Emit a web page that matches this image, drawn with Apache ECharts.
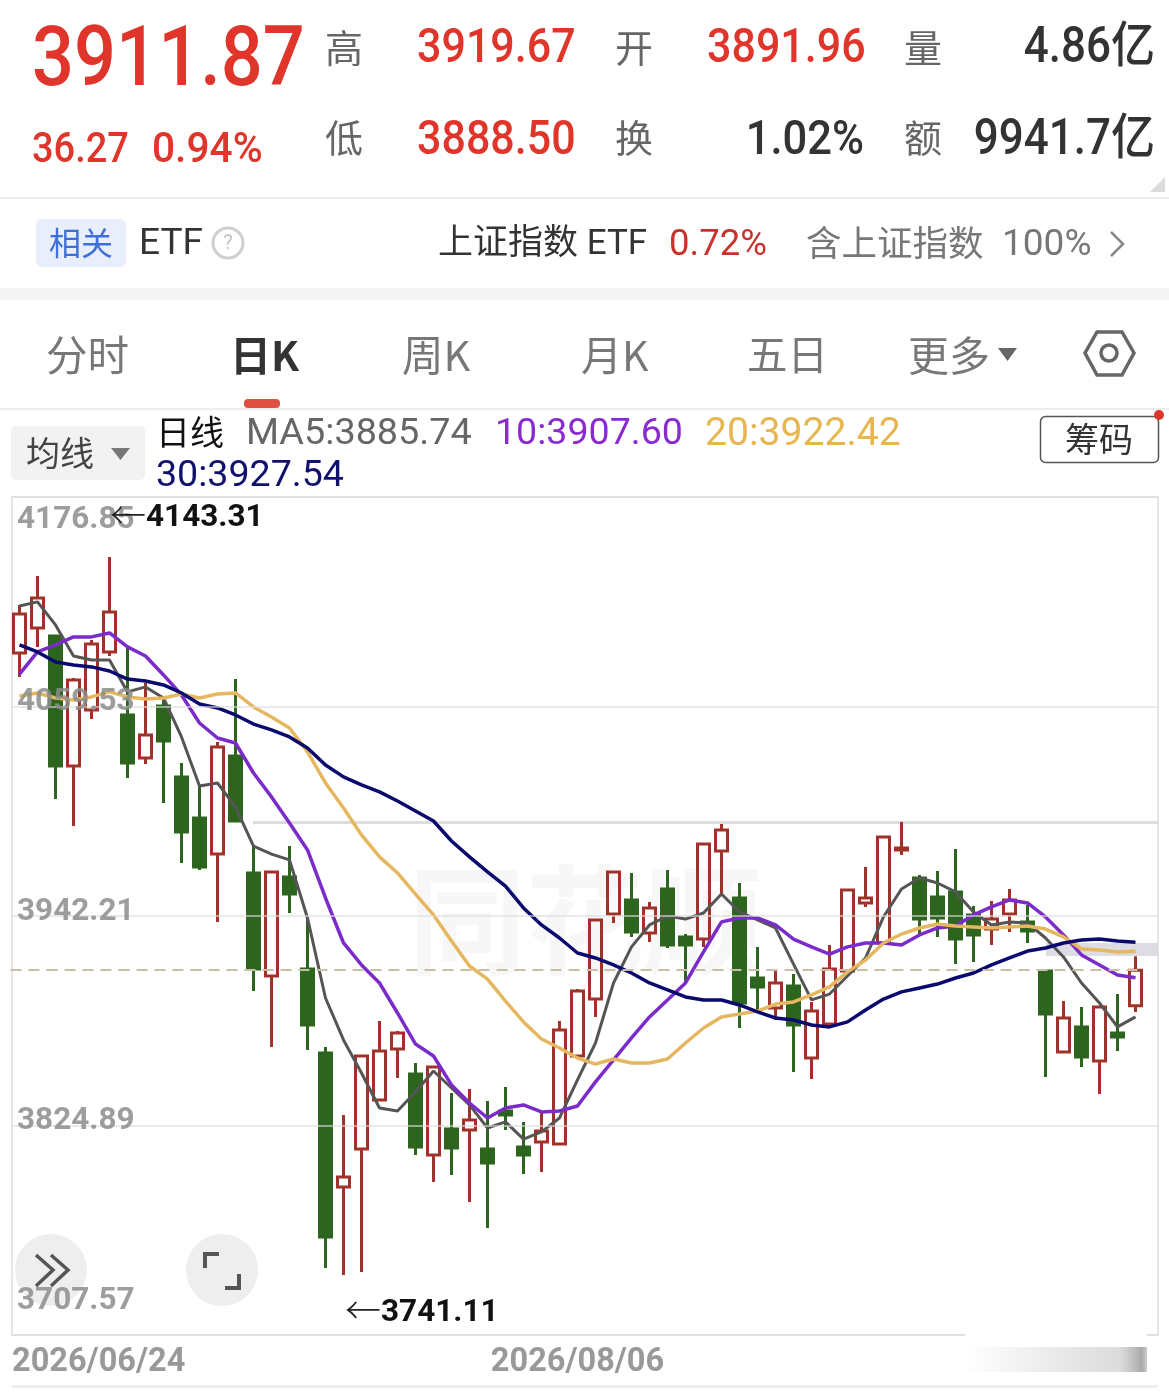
<!DOCTYPE html>
<html><head><meta charset="utf-8">
<style>html,body{margin:0;padding:0;background:#fff}#c{width:1169px;height:1392px}</style>
<script src="https://cdn.jsdelivr.net/npm/echarts@6/dist/echarts.min.js"></script>
</head><body><div id="c"></div>
<script>
const dates=['2026/06/24','2026/06/25','2026/06/26','2026/06/29','2026/06/30','2026/07/01','2026/07/02','2026/07/03','2026/07/06','2026/07/07','2026/07/08','2026/07/09','2026/07/10','2026/07/13','2026/07/14','2026/07/15','2026/07/16','2026/07/17','2026/07/20','2026/07/21','2026/07/22','2026/07/23','2026/07/24','2026/07/27','2026/07/28','2026/07/29','2026/07/30','2026/07/31','2026/08/03','2026/08/04','2026/08/05','2026/08/06','2026/08/07','2026/08/10','2026/08/11','2026/08/12','2026/08/13','2026/08/14','2026/08/17','2026/08/18','2026/08/19','2026/08/20','2026/08/21','2026/08/24','2026/08/25','2026/08/26','2026/08/27','2026/08/28','2026/08/31','2026/09/01','2026/09/02','2026/09/03','2026/09/04','2026/09/07','2026/09/08','2026/09/09','2026/09/10','2026/09/11','2026/09/14','2026/09/15','2026/09/16','2026/09/17','2026/09/18'];
// open, close, low, high
const ohlc=[[4089.5,4111.3,4076.1,4116.4],[4103.5,4120.3,4092.9,4132.6],[4099.0,4026.2,4007.7,4099.6],[4026.2,4074.4,3992.6,4075.5],[4057.6,4094.5,4052.5,4096.8],[4090.1,4112.5,4087.8,4143.31],[4054.8,4027.9,4019.5,4092.9],[4030.7,4043.6,4027.3,4072.7],[4059.8,4040.2,4005.5,4064.9],[4020.1,3989.3,3971.9,4027.9],[3997.1,3969.7,3968.0,4015.6],[3976.9,4036.9,3938.9,4039.7],[4031.8,3995.4,3994.9,4074.9],[3966.3,3912.5,3900.2,3982.0],[3908.6,3966.9,3868.9,3966.9],[3964.1,3954.5,3943.9,3981.4],[3912.5,3881.2,3867.2,3941.1],[3865.5,3762.5,3745.1,3868.9],[3790.5,3796.1,3741.11,3830.8],[3811.7,3863.8,3742.9,3863.8],[3839.2,3866.6,3839.2,3883.4],[3867.7,3876.7,3851.5,3877.8],[3853.7,3812.9,3808.4,3859.9],[3808.4,3857.7,3793.3,3857.7],[3822.9,3812.3,3797.2,3843.1],[3822.4,3828.0,3782.1,3845.3],[3811.7,3803.9,3767.5,3838.6],[3833.0,3830.8,3822.4,3846.5],[3812.9,3808.4,3797.7,3826.9],[3815.7,3821.8,3798.9,3831.9],[3814.5,3878.4,3814.5,3883.4],[3863.8,3900.2,3863.8,3901.3],[3895.7,3940.0,3885.7,3940.0],[3943.3,3966.9,3938.3,3966.9],[3951.2,3933.3,3930.5,3966.3],[3932.7,3946.7,3927.7,3950.1],[3957.3,3926.0,3924.3,3968.0],[3930.5,3926.0,3904.7,3932.1],[3929.3,3982.5,3924.9,3982.5],[3978.6,3990.4,3955.1,3993.7],[3952.3,3893.5,3879.5,3960.7],[3907.5,3902.5,3889.6,3924.9],[3890.7,3904.7,3884.0,3911.4],[3903.0,3881.2,3854.9,3909.7],[3862.7,3889.0,3850.9,3894.1],[3881.7,3912.5,3881.7,3926.0],[3911.4,3956.8,3911.4,3957.3],[3949.5,3952.3,3947.3,3969.7],[3927.1,3986.5,3927.1,3986.5],[3979.2,3980.3,3976.4,3994.9],[3963.5,3940.5,3932.1,3965.2],[3952.9,3941.1,3930.5,3967.4],[3955.7,3929.3,3915.3,3979.7],[3942.8,3931.6,3916.5,3947.8],[3934.9,3940.5,3926.0,3950.6],[3943.3,3951.2,3933.3,3957.3],[3938.9,3933.8,3927.1,3948.4],[3911.4,3887.3,3852.1,3911.4],[3866.1,3885.1,3866.1,3894.6],[3880.1,3863.3,3857.7,3891.3],[3861.0,3891.3,3842.5,3891.3],[3876.7,3874.5,3866.6,3898.5],[3891.96,3911.87,3888.50,3919.67]];
const ma5=[4115.8,4118.1,4105.2,4087.8,4085.6,4085.6,4067.7,4070.5,4064.3,4042.5,4015.0,4016.7,4003.3,3981.4,3976.9,3973.6,3941.1,3896.3,3872.8,3854.3,3834.7,3833.0,3843.7,3855.4,3845.9,3836.4,3823.5,3826.9,3817.3,3821.3,3829.1,3850.4,3871.1,3904.7,3924.9,3937.2,3942.2,3940.5,3943.9,3954.5,3944.5,3940.0,3935.5,3915.3,3895.2,3898.5,3908.6,3918.7,3941.7,3957.3,3963.5,3960.7,3955.7,3944.5,3937.2,3938.9,3938.3,3929.9,3919.3,3904.7,3893.5,3880.1,3885.74];
const ma10=[4077.7,4090.1,4094.0,4098.5,4098.5,4100.7,4092.9,4087.8,4077.2,4066.0,4050.3,4041.9,4039.1,4022.3,4008.9,3994.3,3979.2,3952.3,3927.1,3914.8,3904.7,3887.9,3870.5,3863.8,3847.6,3837.5,3829.1,3834.7,3836.4,3832.5,3833.0,3835.8,3849.3,3861.6,3873.9,3885.7,3895.2,3904.7,3922.1,3938.9,3941.1,3941.1,3937.2,3929.3,3924.9,3920.9,3924.9,3927.1,3927.1,3926.0,3931.6,3935.5,3936.6,3942.8,3947.3,3951.2,3949.5,3941.7,3931.6,3920.4,3914.8,3909.2,3907.60];
const ma20=[4065.4,4067.1,4064.3,4063.2,4064.9,4067.7,4064.9,4063.7,4064.3,4066.5,4064.3,4066.5,4067.1,4059.3,4053.7,4047.5,4034.1,4016.7,4002.7,3987.6,3975.3,3966.3,3954.5,3942.8,3928.2,3914.2,3906.9,3894.6,3882.9,3873.3,3868.3,3862.7,3859.3,3862.1,3859.9,3859.9,3862.1,3871.1,3879.5,3885.7,3887.3,3889.0,3892.9,3894.1,3898.0,3902.5,3910.9,3917.6,3927.1,3932.1,3935.5,3937.7,3936.6,3936.1,3935.5,3936.1,3936.6,3934.9,3930.5,3923.7,3923.2,3922.1,3922.42];
const ma30=[4094.0,4090.1,4084.5,4082.8,4081.7,4079.4,4074.9,4073.8,4071.6,4067.1,4060.9,4058.7,4054.8,4049.7,4046.4,4042.5,4036.3,4026.8,4020.1,4015.6,4011.7,4006.6,4001.0,3995.4,3984.2,3975.3,3966.9,3959.0,3946.7,3937.2,3929.9,3921.5,3918.7,3914.8,3910.3,3904.7,3900.8,3896.9,3895.2,3895.2,3892.4,3888.5,3885.1,3884.0,3881.2,3880.1,3882.9,3889.6,3895.7,3899.7,3901.9,3904.1,3907.5,3910.3,3914.8,3918.7,3922.6,3924.3,3927.1,3928.8,3929.3,3928.2,3927.54];
const yTicks=[3707.57,3824.89,3942.21,4059.53,4176.85];
const lastClose=3911.87;
const RED='#e0352b',DK='#333',GR='#666',FF="Roboto,'Noto Sans CJK SC',sans-serif";
const CJK="'Noto Sans CJK SC',sans-serif";
function T(x,y,text,size,fill,o){o=o||{};return {type:'text',x:x,y:y,scaleX:o.sx||1,scaleY:o.sy||1,z:o.z==null?100:o.z,silent:true,style:{text:text,fontSize:size,fontFamily:o.ff||FF,fontWeight:o.w||400,fill:fill,align:o.a||'left',verticalAlign:'middle'}};}
function R(x,y,w,h,fill,r,o){o=o||{};return {type:'rect',z:o.z==null?5:o.z,silent:true,shape:{x:x,y:y,width:w,height:h,r:r||0},style:{fill:fill,stroke:o.stroke,lineWidth:o.lw}};}
function PL(pts,stroke,lw,o){o=o||{};return {type:o.closed?'polygon':'polyline',z:o.z==null?100:o.z,silent:true,shape:{points:pts},style:{fill:o.fill||'none',stroke:stroke,lineWidth:lw}};}
const SY=1.12;
const els=[
 T(32,64,'3911.87',74,RED,{w:500,sy:SY}),
 T(325,48,'高',38,GR,{ff:CJK}),T(417,50,'3919.67',43,RED,{w:500,sy:SY}),
 T(615,48,'开',38,GR,{ff:CJK}),T(707,50,'3891.96',43,RED,{w:500,sy:SY}),
 T(904,48,'量',38,GR,{ff:CJK}),T(1155,50,'4.86亿',44,DK,{w:500,a:'right',sy:SY}),
 T(325,138,'低',38,GR,{ff:CJK}),T(417,142,'3888.50',43,RED,{w:500,sy:SY}),
 T(615,138,'换',38,GR,{ff:CJK}),T(864,142,'1.02%',43.5,DK,{w:500,a:'right',sy:SY}),
 T(904,138,'额',38,GR,{ff:CJK}),T(1155,142,'9941.7亿',44,DK,{w:500,a:'right',sy:SY}),
 T(32,151,'36.27',38,RED,{w:500,sy:SY}),T(152,151,'0.94%',38,RED,{w:500,sy:SY,sx:1.07}),
 PL([[1165,177],[1165,192],[1150,192]],'none',0,{closed:true,fill:'#dcdcdc'}),
 R(0,197,1169,2,'#eeeeee'),
 R(36,219,90,48,'#e8eefb',6),
 T(81,243,'相关',32,'#3f6fd8',{ff:CJK,a:'center'}),
 T(139,245,'ETF',37,DK),
 {type:'circle',z:100,silent:true,shape:{cx:228,cy:243,r:15},style:{fill:'#fff',stroke:'#cfcfcf',lineWidth:3}},
 T(228,244,'?',20,'#c4c4c4',{a:'center'}),
 T(438,245,'上证指数 ETF',35,DK,{ff:FF}),
 T(669,246,'0.72%',36.5,'#c8322c'),
 T(806,243,'含上证指数',35.5,'#777',{ff:CJK}),
 T(1002,246,'100%',37,'#777'),
 PL([[1111,232],[1123,244],[1111,256]],'#888',2.5),
 R(0,288,1169,12,'#f4f4f4'),
 T(46,355,'分时',41.5,'#777',{ff:CJK}),
 T(230,355,'日K',41,'#333',{ff:CJK,w:700}),
 T(402,355,'周K',41.5,'#777',{ff:CJK}),
 T(581,355,'月K',41,'#777',{ff:CJK}),
 T(747,355,'五日',40.5,'#777',{ff:CJK}),
 T(908,355,'更多',41,'#777',{ff:CJK}),
 PL([[998,348],[1017,348],[1007.5,361]],'none',0,{closed:true,fill:'#666'}),
 PL([[1085,353],[1097,332],[1122,332],[1134,353],[1122,375],[1097,375]],'#666',3.5,{closed:true}),
 {type:'circle',z:100,silent:true,shape:{cx:1109,cy:353,r:8},style:{fill:'none',stroke:'#666',lineWidth:3.5}},
 R(244,399,36,9,'#e05040',4),
 R(0,408,1169,2,'#eeeeee'),
 R(11,426,134,54,'#f2f2f2',5),
 T(26,453,'均线',34,'#444',{ff:CJK}),
 PL([[111,448],[130,448],[120.5,460]],'none',0,{closed:true,fill:'#777'}),
 T(156,432,'日线',34,'#111',{ff:CJK}),
 T(246,435,'MA5:3885.74',37.8,'#666'),
 T(495,435,'10:3907.60',37.6,'#8a2bd0'),
 T(705,435,'20:3922.42',38,'#e8b650',{sx:1.03}),
 T(156,477,'30:3927.54',37.6,'#10106e'),
 R(1040.5,416.5,118,46,'#fff',5,{stroke:'#555',lw:1.5}),
 T(1099,439,'筹码',34,'#333',{ff:CJK,a:'center'}),
 {type:'circle',z:100,silent:true,shape:{cx:1159,cy:415,r:5},style:{fill:'#e0352b'}},
 // chart decorations below the series
 T(408,920,'同花顺',118,'#f7f7f7',{ff:CJK,w:700,z:1}),
 R(253,821,905,3,'#dddddd',0,{z:1}),
 R(1046,943,112,13,'#dcdce2',0,{z:1}),
 {type:'circle',z:1,silent:true,shape:{cx:51,cy:1270,r:36},style:{fill:'#eeeeee'}},
 {type:'circle',z:1,silent:true,shape:{cx:222,cy:1270,r:36},style:{fill:'#eeeeee'}},
 PL([[36,1255],[53,1270],[36,1286]],'#555',3.5),
 PL([[51,1255],[68,1270],[51,1286]],'#555',3.5),
 PL([[219,1254],[205,1254],[205,1268]],'#555',4),
 PL([[225,1288],[239,1288],[239,1274]],'#555',4),
 T(110,515,'←',36,'#222',{ff:CJK,w:300}),T(146,518,'4143.31',31.5,'#111',{w:700}),
 T(345,1310,'←',36,'#222',{ff:CJK,w:300}),T(381,1313,'3741.11',31.5,'#111',{w:700}),
 R(965,1333,182,4,'#fff',0,{z:100}),
 {type:'rect',z:100,silent:true,shape:{x:965,y:1347,width:182,height:25},style:{fill:new echarts.graphic.LinearGradient(0,0,1,0,[{offset:0,color:'rgba(200,200,200,0)'},{offset:.85,color:'rgba(205,205,205,.7)'},{offset:.97,color:'#aaaaaa'},{offset:1,color:'#cccccc'}])}},
 R(12,1385,1146,3,'#eeeeee')
];
const ML=(name,data,color,w)=>({name:name,type:'line',xAxisIndex:0,yAxisIndex:0,data:data,symbol:'none',smooth:false,animation:false,lineStyle:{color:color,width:w},z:3});
const LC='rgba(140,140,140,.85)';
const chart=echarts.init(document.getElementById('c'),null,{width:1169,height:1392});
chart.setOption({
 animation:false,backgroundColor:'#fff',
 grid:[{left:10.5,top:497,width:1134,height:838,show:false},{left:12,top:497,width:1146,height:838,show:true,borderColor:'#e6e6e6',borderWidth:2,backgroundColor:'transparent'}],
 xAxis:[
  {gridIndex:0,type:'category',data:dates,boundaryGap:true,axisLine:{show:false},axisTick:{show:false},splitLine:{show:false},
   axisLabel:{color:'#999',fontSize:32.5,fontWeight:700,fontFamily:'Roboto',margin:11,interval:(i)=>i===31}},
  {gridIndex:1,type:'category',data:dates,boundaryGap:false,axisLine:{show:false},axisTick:{show:false},splitLine:{show:false},
   axisLabel:{color:'#999',fontSize:32.5,fontWeight:700,fontFamily:'Roboto',margin:11,interval:(i)=>i===0,alignMinLabel:'left'}}
 ],
 yAxis:[
  {gridIndex:0,type:'value',min:yTicks[0],max:yTicks[4],show:false,splitLine:{show:false}},
  {gridIndex:1,type:'value',min:yTicks[0],max:yTicks[4],z:6,axisLine:{show:false},
   axisTick:{show:false,customValues:yTicks},
   splitLine:{show:true,lineStyle:{color:'rgba(220,220,220,.8)',width:1.5}},
   axisLabel:{inside:true,margin:5,customValues:yTicks,showMinLabel:true,showMaxLabel:true,
     formatter:(v)=>{const s=Number(v).toFixed(2);const k=Math.abs(v-yTicks[4])<.01?'t':Math.abs(v-yTicks[0])<.01?'b':'m';return '{'+k+'|'+s+'}';},
     rich:{t:{color:LC,fontSize:31.5,fontWeight:700,fontFamily:'Roboto',padding:[46,0,0,0]},
           m:{color:LC,fontSize:31.5,fontWeight:700,fontFamily:'Roboto',padding:[0,0,8,0]},
           b:{color:LC,fontSize:31.5,fontWeight:700,fontFamily:'Roboto',padding:[0,0,68,0]}}}}
 ],
 series:[
  {name:'日线',type:'candlestick',xAxisIndex:0,yAxisIndex:0,data:ohlc,barWidth:13,z:2,
   itemStyle:{color:'transparent',color0:'#2d651f',borderColor:'#a0322b',borderColor0:'#2d651f',borderWidth:3},
   markLine:{silent:true,symbol:'none',animation:false,label:{show:false},lineStyle:{color:'#c9bfa8',type:[11,7],width:2},data:[{yAxis:lastClose}]}},
  ML('MA5',ma5,'#555555',3),ML('MA10',ma10,'#7b2bc9',3.5),ML('MA20',ma20,'#e5b75e',3.5),ML('MA30',ma30,'#0a0a6e',3.5)
 ],
 graphic:{elements:els}
});
</script></body></html>
